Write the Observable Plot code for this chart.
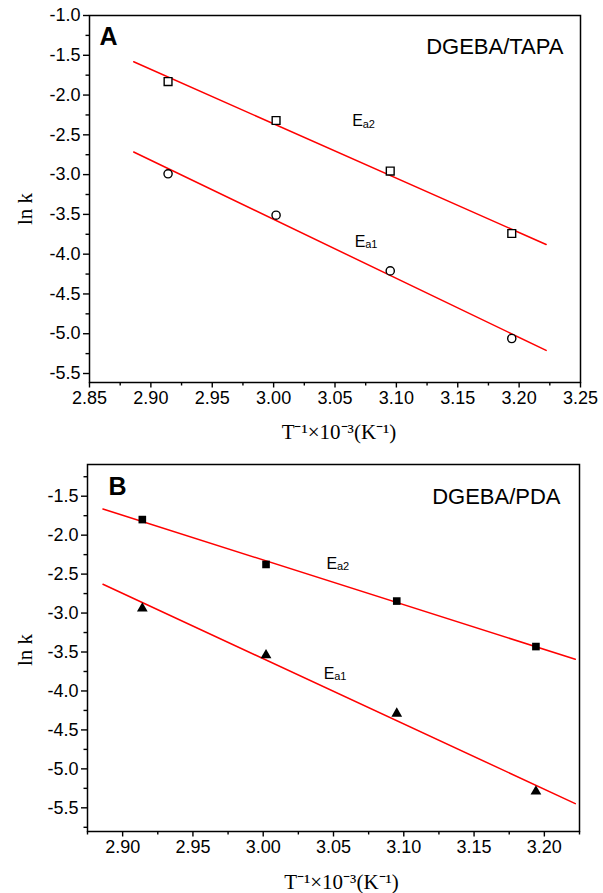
<!DOCTYPE html>
<html><head><meta charset="utf-8">
<script src="https://cdn.jsdelivr.net/npm/d3@7"></script>
<script src="https://cdn.jsdelivr.net/npm/@observablehq/plot@0.6"></script>
<style>
body{margin:0;background:#fff;}
#c svg{display:block;}
</style>
</head><body><div id="c"></div>
<script>
// ---- data ----
const invT = [2.914, 3.002, 3.095, 3.194];           // T^-1 x 10^-3 (K^-1)
const tapaEa2 = [-1.83, -2.32, -2.955, -3.74];       // panel A, squares
const tapaEa1 = [-2.99, -3.51, -4.21, -5.06];        // panel A, circles
const pdaEa2 = [-1.80, -2.376, -2.846, -3.43];       // panel B, filled squares
const pdaEa1 = [-2.94, -3.54, -4.29, -5.29];         // panel B, triangles
const fitRange = [2.886, 3.222];                     // extent of the fitted lines

const xTicksA = [2.85, 2.90, 2.95, 3.00, 3.05, 3.10, 3.15, 3.20, 3.25];
const xMinorA = [2.875, 2.925, 2.975, 3.025, 3.075, 3.125, 3.175, 3.225];
const yTicksA = [-1.0, -1.5, -2.0, -2.5, -3.0, -3.5, -4.0, -4.5, -5.0, -5.5];
const yMinorA = [-1.25, -1.75, -2.25, -2.75, -3.25, -3.75, -4.25, -4.75, -5.25];
const xTicksB = [2.90, 2.95, 3.00, 3.05, 3.10, 3.15, 3.20];
const xMinorB = [2.875, 2.925, 2.975, 3.025, 3.075, 3.125, 3.175, 3.225];
const yTicksB = [-1.5, -2.0, -2.5, -3.0, -3.5, -4.0, -4.5, -5.0, -5.5];
const yMinorB = [-1.25, -1.75, -2.25, -2.75, -3.25, -3.75, -4.25, -4.75, -5.25, -5.75];

const panelLabels = ["A", "B"];
const systems = ["DGEBA/TAPA", "DGEBA/PDA"];
const eaLabelsA = [{x: 3.064, y: -2.33, sub: "a2"}, {x: 3.066, y: -3.84, sub: "a1"}];
const eaLabelsB = [{x: 3.045, y: -2.364, sub: "a2"}, {x: 3.043, y: -3.776, sub: "a1"}];
const xTitle = "T\u207B\u00B9\u00D710\u207B\u00B3(K\u207B\u00B9)";
const yTitle = "ln k";

function fit(xs, ys) {
  const mx = d3.mean(xs), my = d3.mean(ys);
  const sxy = d3.sum(xs, (x, i) => (x - mx) * (ys[i] - my));
  const sxx = d3.sum(xs, x => (x - mx) ** 2);
  const b = sxy / sxx, a = my - b * mx;
  return fitRange.map(x => ({x, y: a + b * x}));
}

const sans = "'Liberation Sans', Arial, sans-serif";
const serif = "'Liberation Serif', 'Times New Roman', serif";
const fmt = (p) => (d) => d3.format(p)(d).replace("\u2212", "-");

function panel(o) {
  const pts = (ys) => invT.map((x, i) => ({x, y: ys[i]}));
  return Plot.plot({
    width: 603, height: o.height,
    marginTop: o.mt, marginBottom: o.mb, marginLeft: o.ml, marginRight: o.mr,
    style: {fontFamily: sans, fontSize: "18px", color: "black", background: "white"},
    x: {domain: o.xDomain, label: null},
    y: {domain: o.yDomain, label: null},
    marks: [
      Plot.axisX(o.xTicks, {tickSize: 5.5, tickPadding: 3, strokeWidth: 1.4, fontSize: 18, tickFormat: fmt(".2f"), label: null}),
      Plot.axisX(o.xMinor, {tickSize: 3.5, strokeWidth: 1.4, tickFormat: () => "", label: null}),
      Plot.axisY(o.yTicks, {tickSize: 6, tickPadding: 3, strokeWidth: 1.4, fontSize: 18, tickFormat: fmt(".1f"), label: null}),
      Plot.axisY(o.yMinor, {tickSize: 3.5, strokeWidth: 1.4, tickFormat: () => "", label: null}),
      Plot.line(fit(invT, o.s2), {x: "x", y: "y", stroke: "#ff0000", strokeWidth: 1.5}),
      Plot.line(fit(invT, o.s1), {x: "x", y: "y", stroke: "#ff0000", strokeWidth: 1.5}),
      ...o.markers(pts),
      Plot.text(o.ea, {x: "x", y: "y", text: () => "E", textAnchor: "start", fontSize: 16, fontFamily: sans}),
      Plot.text(o.ea, {x: "x", y: "y", text: "sub", textAnchor: "start", dx: 10.5, dy: 3, fontSize: 11, fontFamily: sans}),
      Plot.text([o.letter], {frameAnchor: "top-left", dx: o.ldx, dy: o.ldy, lineAnchor: "middle", textAnchor: "start", fontSize: 25, fontWeight: "bold", fontFamily: sans}),
      Plot.text([o.system], {frameAnchor: "top-right", dx: o.sdx, dy: o.sdy, lineAnchor: "middle", textAnchor: "end", fontSize: 22, fontFamily: sans}),
      Plot.text([yTitle], {frameAnchor: "left", dx: o.ydx, dy: o.ydy, rotate: -90, fontSize: 21, fontFamily: serif}),
      Plot.text([xTitle], {frameAnchor: "bottom", dx: o.xdx, dy: o.xdy, lineAnchor: "middle", fontSize: 21, fontFamily: serif}),
      Plot.frame({stroke: "black", strokeWidth: 1.5})
    ]
  });
}

const chartA = panel({
  height: 446, mt: 15, mb: 64, ml: 89, mr: 23,
  xDomain: [2.85, 3.25], yDomain: [-5.613, -1.0],
  xTicks: xTicksA, xMinor: xMinorA, yTicks: yTicksA, yMinor: yMinorA,
  s2: tapaEa2, s1: tapaEa1, ea: eaLabelsA,
  letter: panelLabels[0], ldx: 10, ldy: 21,
  system: systems[0], sdx: -17, sdy: 31,
  ydx: -64, ydy: 26, xdx: 4, xdy: 50,
  markers: (pts) => [
    Plot.dot(pts(tapaEa2), {x: "x", y: "y", symbol: "square", r: 4.4, stroke: "black", strokeWidth: 1.4, fill: "white"}),
    Plot.dot(pts(tapaEa1), {x: "x", y: "y", symbol: "circle", r: 4.1, stroke: "black", strokeWidth: 1.4, fill: "white"})
  ]
});

const chartB = panel({
  height: 447, mt: 18, mb: 62, ml: 87, mr: 24,
  xDomain: [2.875, 3.225], yDomain: [-5.804, -1.093],
  xTicks: xTicksB, xMinor: xMinorB, yTicks: yTicksB, yMinor: yMinorB,
  s2: pdaEa2, s1: pdaEa1, ea: eaLabelsB,
  letter: panelLabels[1], ldx: 21, ldy: 22,
  system: systems[1], sdx: -19, sdy: 32,
  ydx: -62, ydy: 18, xdx: 8, xdy: 51,
  markers: (pts) => [
    Plot.dot(pts(pdaEa2), {x: "x", y: "y", symbol: "square", r: 4.3, fill: "black", stroke: "none"}),
    Plot.dot(pts(pdaEa1), {x: "x", y: "y", symbol: "triangle", r: 4, fill: "black", stroke: "none"})
  ]
});

document.getElementById("c").append(chartA, chartB);
</script>
</body></html>
